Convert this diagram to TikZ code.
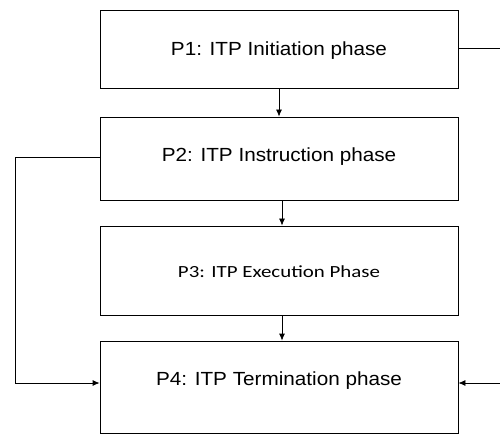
\documentclass[tikz,border=0pt]{standalone}
\usepackage{graphicx}
\usepackage{fontspec}
\setmainfont{Liberation Sans}
\newfontfamily\calibrifont{Carlito}
\usetikzlibrary{arrows.meta,positioning}
\newcommand{\widetext}[2][1.09]{\scalebox{#1}[1]{#2}}
\tikzset{
  phase/.style={draw, line width=0.8pt, minimum width=358pt, inner sep=0pt, text height=14pt, font=\fontsize{19}{22}\selectfont},
  flow/.style={-{Latex[length=7pt,width=6pt]}, line width=0.8pt}
}
\begin{document}
\begin{tikzpicture}[x=1pt,y=1pt]
  \useasboundingbox (0,0) rectangle (500,434);
  % phase boxes
  \node[phase, minimum height=78pt, text depth=0.3pt] (p1) at (279,385) {\widetext{P1: ITP Initiation phase}};
  \node[phase, minimum height=83pt, text depth=7.3pt] (p2) at (279,275.5) {\widetext{P2: ITP Instruction phase}};
  \node[phase, minimum height=89pt, text depth=0.3pt, font=\calibrifont\fontsize{17}{22}\selectfont] (p3) at (279,163.5) {\widetext[1.23]{P3: ITP Execution Phase}};
  \node[phase, minimum height=92pt, text depth=16.3pt] (p4) at (279,47) {\widetext{P4: ITP Termination phase}};
  % bends of the side lines
\coordinate (l1) at (15,277);
\coordinate (l2) at (15,51);
\coordinate (r1) at (512,386);
\coordinate (r2) at (512,51);
  % main sequence
  \draw[flow] (p1) -- (p2);
  \draw[flow] ([xshift=3pt]p2.south) -- ([xshift=3pt]p3.north);
  \draw[flow] ([xshift=3pt]p3.south) -- ([xshift=3pt]p4.north);
  % skip lines to termination
  \draw[flow] (p2.west |- l1) -- (l1) -- (l2) -- (p4.west |- l2);
  \draw[flow] (p1.east |- r1) -- (r1) -- (r2) -- (p4.east |- r2);
\end{tikzpicture}
\end{document}
